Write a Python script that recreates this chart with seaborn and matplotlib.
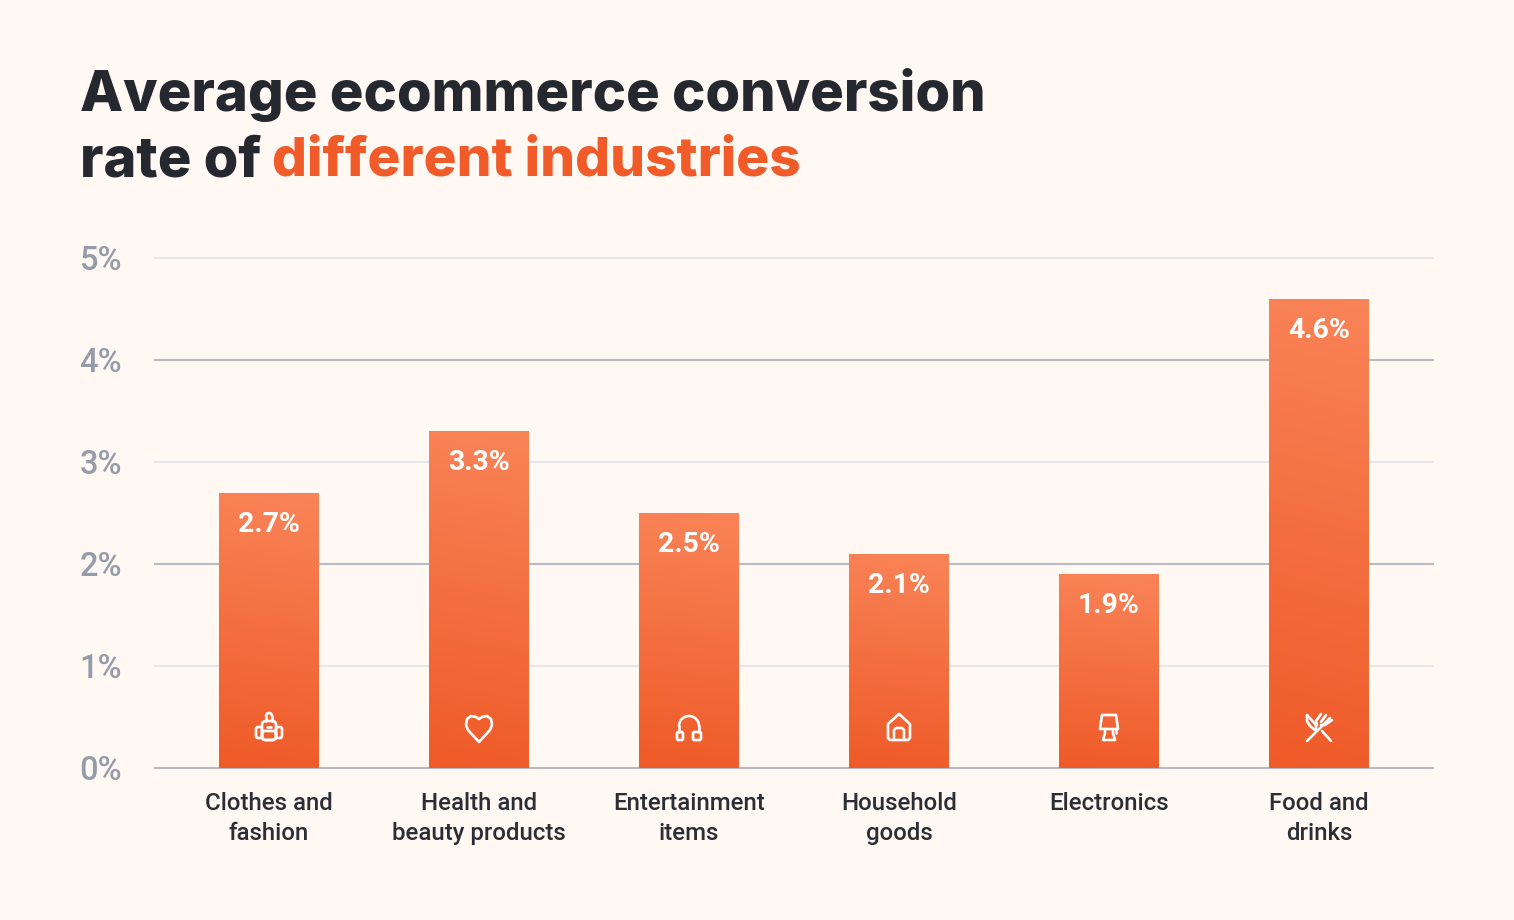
import numpy as np
import pandas as pd
import matplotlib
matplotlib.use("Agg")
import matplotlib.pyplot as plt
import seaborn as sns
from matplotlib.patches import FancyBboxPatch, PathPatch
from matplotlib.path import Path
from matplotlib.transforms import ScaledTranslation

categories = ["Clothes and\nfashion", "Health and\nbeauty products", "Entertainment\nitems",
              "Household\ngoods", "Electronics", "Food and\ndrinks"]
rates = [2.7, 3.3, 2.5, 2.1, 1.9, 4.6]
value_labels = ["2.7%", "3.3%", "2.5%", "2.1%", "1.9%", "4.6%"]
yticks = [0, 1, 2, 3, 4, 5]
ytick_labels = ["0%", "1%", "2%", "3%", "4%", "5%"]

W, H = 1514, 920
BG = "#FFF8F3"
ORANGE = "#F15A29"
DARK = "#25282E"

sns.set_theme(style="white")
plt.rcParams["font.family"] = ["Roboto", "DejaVu Sans"]

fig = plt.figure(figsize=((W + 0.01) / 100, (H + 0.01) / 100), dpi=100, facecolor=BG)
ax = fig.add_axes([154 / W, 1 - 768 / H, 1280 / W, 510 / H], facecolor=BG)

df = pd.DataFrame({"category": categories, "rate": rates})
sns.barplot(data=df, x="category", y="rate", width=99.4 / 210, color=ORANGE, saturation=1, ax=ax,
            zorder=3, linewidth=0)
ax.set_xlabel("")
ax.set_ylabel("")
sns.despine(ax=ax, left=True, bottom=True, top=True, right=True)

# alternating gridlines, the even ones are darker
for v in yticks:
    c = "#B7BBC1" if v % 2 == 0 else "#E5E7EA"
    ax.axhline(v, color=c, lw=1.5, zorder=1, clip_on=False, solid_capstyle="butt")

ax.set_yticks(yticks, ytick_labels)
ax.tick_params(axis="y", length=0, pad=23, labelsize=23.5, labelcolor="#959CA9")
ax.tick_params(axis="x", length=0, pad=17, labelsize=17.3, labelcolor="#2B2E35")
nudge = ScaledTranslation(0, 0.7 / 100, fig.dpi_scale_trans)
for t in ax.get_yticklabels():
    t.set_fontweight(500)
    t.set_transform(t.get_transform() + nudge)
for t in ax.get_xticklabels():
    t.set_fontweight(500)
    t.set_linespacing(1.39)

# gradient fill, clipped on each bar, tilted a little
gy, gx = np.mgrid[0:1:256j, 0:1:64j]
grad = np.clip(gy * 0.95 + (1 - gx) * 0.05, 0, 1)[..., None]
top = np.array(matplotlib.colors.to_rgb("#F98458"))
bottom = np.array(matplotlib.colors.to_rgb("#EF5A28"))
rgb = top + (bottom - top) * grad
for bar, lab in zip(ax.patches, value_labels):
    x0, w, h = bar.get_x(), bar.get_width(), bar.get_height()
    im = ax.imshow(rgb, extent=[x0, x0 + w, 0, h], aspect="auto", zorder=4, interpolation="bilinear")
    im.set_clip_path(bar)
    ax.annotate(lab, (x0 + w / 2, h), xytext=(0, -31.5), textcoords="offset pixels", ha="center", va="center",
                color="white", fontsize=20.4, fontweight="bold", zorder=6)
ax.set_xlim(-115 / 210, 5 + 115 / 210)
ax.set_ylim(0, 5)

# overlay in pixel coords for the icons and the title
ov = fig.add_axes([0, 0, 1, 1], facecolor="none")
ov.set_xlim(0, W)
ov.set_ylim(H, 0)
ov.axis("off")

LW = 1.9


def polyline(cx, cy, pts, closed=False):
    verts = [(cx + a, cy + b) for a, b in pts]
    codes = [Path.MOVETO] + [Path.LINETO] * (len(verts) - 1)
    if closed:
        verts.append(verts[0])
        codes.append(Path.CLOSEPOLY)
    ov.add_patch(PathPatch(Path(verts, codes), fc="none", ec="white", lw=LW, capstyle="round", joinstyle="round"))


def rrect(cx, cy, x, y, w, h, r=2):
    ov.add_patch(FancyBboxPatch((cx + x, cy + y), w, h, boxstyle=f"round,pad=0,rounding_size={r}",
                                fc="none", ec="white", lw=LW))


def arc(cx, cy, x, y, r, a0, a1):
    ang = np.radians(np.linspace(a0, a1, 20))
    polyline(cx, cy, list(zip(x + r * np.cos(ang), y + r * np.sin(ang))))


def backpack(cx, cy):
    rrect(cx, cy, -7, -7, 14, 19, 4)
    rrect(cx, cy, -7, 3, 14, 9, 3)
    rrect(cx, cy, -13, -1, 6, 11, 2)
    rrect(cx, cy, 7, -1, 6, 11, 2)
    arc(cx, cy, 0, -12, 3, 180, 360)
    polyline(cx, cy, [(-3, -12), (-3, -7)])
    polyline(cx, cy, [(3, -12), (3, -7)])
    polyline(cx, cy, [(-2, -1), (2, -1)])


def heart(cx, cy):
    pts = [(0, 14), (-11, 2), (-13, -3), (-12, -9), (-8, -12), (-3, -11), (0, -9),
           (3, -11), (8, -12), (12, -9), (13, -3), (11, 2)]
    polyline(cx, cy, pts, closed=True)


def headphones(cx, cy):
    arc(cx, cy, 0, -2, 10, 180, 360)
    polyline(cx, cy, [(-10, -2), (-10, 4)])
    polyline(cx, cy, [(10, -2), (10, 4)])
    rrect(cx, cy, -12, 4, 6, 8, 1.5)
    rrect(cx, cy, 4, 4, 8, 8, 1.5)


def house(cx, cy):
    polyline(cx, cy, [(0, -14), (11, -4), (11, 10), (9, 12), (-9, 12), (-11, 10), (-11, -4)], closed=True)
    polyline(cx, cy, [(-5, 12), (-5, 2), (-3, 0), (3, 0), (5, 2), (5, 12)])


def lamp(cx, cy):
    polyline(cx, cy, [(-7, -13), (7, -13), (9, 1), (-9, 1)], closed=True)
    polyline(cx, cy, [(-4, 1), (-4, 5), (-6, 12), (6, 12), (4, 5), (4, 1)])
    polyline(cx, cy, [(7, 1), (7, 5)])


def cutlery(cx, cy):
    polyline(cx, cy, [(-12, 13), (11, -10)])
    polyline(cx, cy, [(2, -14), (-3, -7), (-2, -3)])
    polyline(cx, cy, [(7, -13), (2, -6)])
    polyline(cx, cy, [(13, -8), (6, -3), (2, -3)])
    polyline(cx, cy, [(-12, -13), (-3, -3)])
    polyline(cx, cy, [(-12, -13), (-12, -7), (-9, -2), (-3, 3), (-3, -3)])
    polyline(cx, cy, [(3, 3), (12, 13)])


icons = [backpack, heart, headphones, house, lamp, cutlery]
for i, draw in enumerate(icons):
    draw(269 + 210 * i, 728)

# title, two colours on the second line
title_font = ["Inter", "DejaVu Sans"]
ov.text(80, 95, "Average ecommerce conversion", fontsize=40.4, fontweight=800, family=title_font,
        color=DARK, va="center", ha="left")
ov.text(80, 161, "rate of", fontsize=40.3, fontweight=800, family=title_font,
        color=DARK, va="center", ha="left")
ov.text(272, 161, "different industries", fontsize=39.55, fontweight=800, family=title_font,
        color=ORANGE, va="center", ha="left")

fig.savefig("out.png", dpi=100, facecolor=BG)
